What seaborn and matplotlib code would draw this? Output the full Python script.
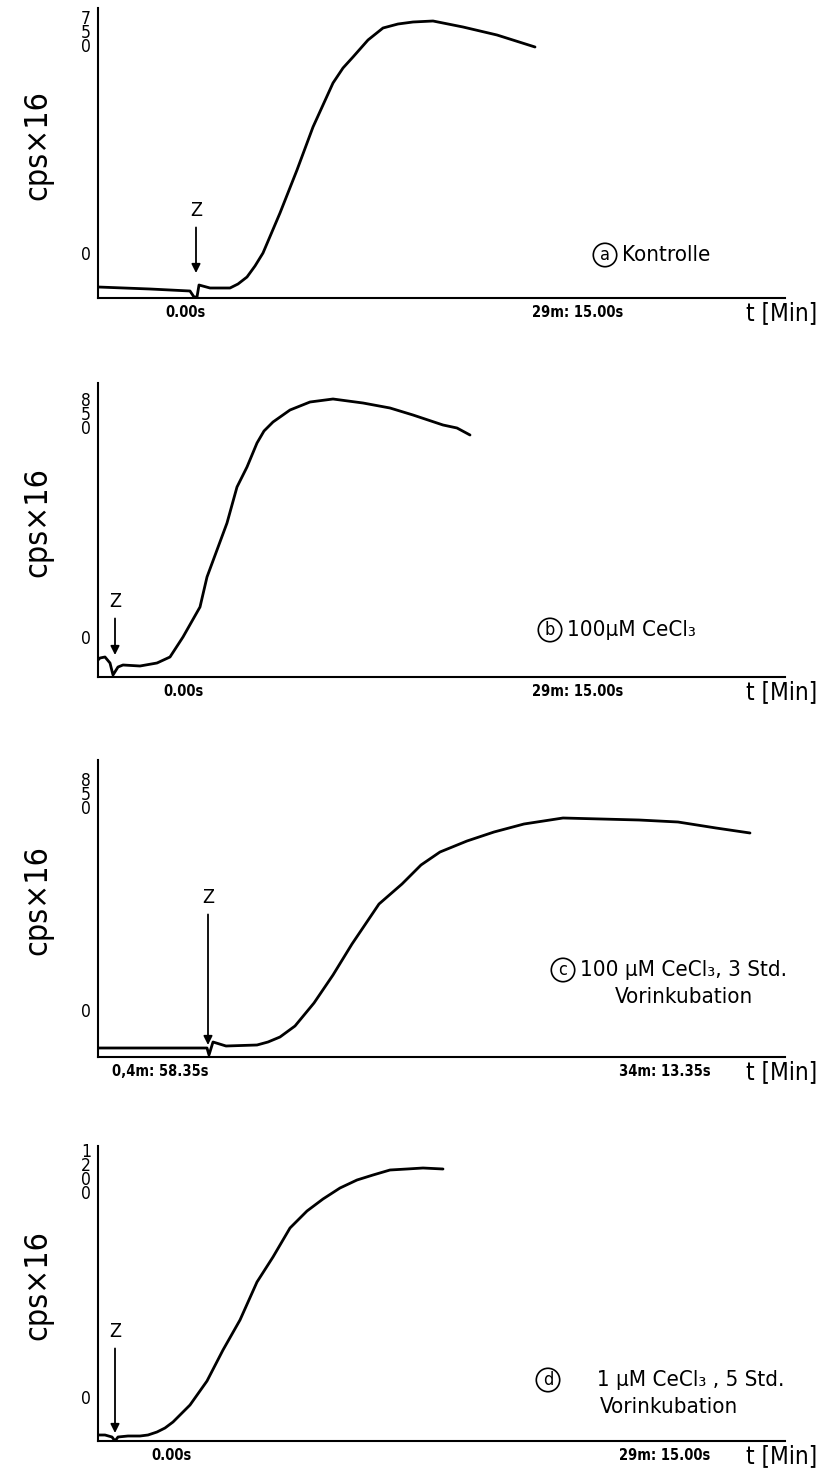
import matplotlib
matplotlib.use("Agg")
import matplotlib.pyplot as plt
import seaborn as sns
import numpy as np

sns.set_theme(style="white")
plt.rcParams['font.family'] = ['DejaVu Sans']
plt.rcParams['font.stretch'] = 'condensed'
plt.rcParams['text.color'] = 'black'
plt.rcParams['axes.labelcolor'] = 'black'
plt.rcParams['xtick.color'] = 'black'
plt.rcParams['ytick.color'] = 'black'

# ---------------- data (t in arbitrary chart units, signal in cps/16 units) ----------------
# panel a : Kontrolle
a_t = [0, 52, 92, 96, 99, 101, 112, 132, 140, 149, 157, 165, 182, 199, 215, 235, 245, 255, 270, 285, 300, 315, 335, 365, 399, 437]
a_y = [11, 9, 7, 1, 1, 13, 10, 10, 14, 21, 32, 45, 85, 128, 171, 215, 230, 241, 258, 270, 274, 276, 277, 271, 263, 251]
# panel b : 100 uM CeCl3
b_t = [0, 2, 7, 12, 15, 20, 25, 42, 59, 72, 85, 102, 109, 119, 129, 139, 149, 159, 166, 175, 192, 212, 235, 265, 292, 315, 345, 359, 372]
b_y = [17, 19, 20, 14, 2, 10, 12, 11, 14, 20, 40, 70, 100, 127, 154, 190, 210, 234, 246, 255, 267, 275, 278, 274, 269, 262, 252, 249, 242]
# panel c : 100 uM CeCl3, 3 Std. Vorinkubation
c_t = [0, 82, 109, 111, 115, 128, 159, 170, 182, 197, 216, 235, 254, 281, 304, 323, 342, 369, 396, 426, 465, 503, 541, 580, 618, 652]
c_y = [9, 9, 9, 2, 15, 11, 12, 15, 20, 31, 54, 82, 113, 153, 173, 192, 205, 216, 225, 233, 239, 238, 237, 235, 229, 224]
# panel d : 1 uM CeCl3, 5 Std. Vorinkubation
d_t = [0, 7, 14, 17, 20, 30, 42, 50, 59, 67, 75, 92, 109, 125, 142, 159, 175, 192, 209, 225, 242, 259, 275, 292, 309, 325, 345]
d_y = [6, 6, 4, 0, 4, 5, 5, 6, 9, 13, 19, 36, 60, 91, 121, 159, 184, 213, 230, 242, 253, 261, 266, 271, 272, 273, 272]

series = [a_t, a_y], [b_t, b_y], [c_t, c_y], [d_t, d_y]
panel_letters = ['a', 'b', 'c', 'd']
label_line1 = ['Kontrolle', '100μM CeCl₃', '100 μM CeCl₃, 3 Std.', '     1 μM CeCl₃ , 5 Std.']
label_line2 = ['', '', 'Vorinkubation', 'Vorinkubation']
start_labels = ['0.00s', '0.00s', '0,4m: 58.35s', '0.00s']
end_labels = ['29m: 15.00s', '29m: 15.00s', '34m: 13.35s', '29m: 15.00s']
top_tick_labels = ['7\n5\n0', '8\n5\n0', '8\n5\n0', '1\n2\n0\n0']
z_t = [98, 17, 110, 17]

# ---------------- layout (pixels of the 836x1477 canvas) ----------------
W, H = 836, 1477
ax_left, ax_right = 98, 785
panels_px = [(8, 298), (383, 677), (760, 1057), (1146, 1441)]  # (top, bottom)
zero_tick = [45, 40, 47, 44]
top_tick = [265, 262, 262, 268]
start_x = [87, 85, 62, 73]
end_x = [480, 480, 567, 567]
lbl_x = [507, 452, 465, 450]
lbl_y = [43, 47, 87, 61]
z_text_y = [78, 66, 150, 100]
z_tip_y = [25, 22, 12, 8]

fig = plt.figure(figsize=(W / 100, H / 100), dpi=100)
fam = ['DejaVu Sans']

for i in range(4):
    top, bot = panels_px[i]
    ax = fig.add_axes([ax_left / W, (H - bot) / H, (ax_right - ax_left) / W, (bot - top) / H])
    t, y = series[i]
    sns.lineplot(x=t, y=y, ax=ax, color='black', lw=2.0, sort=False, estimator=None)
    ax.set_xlim(0, ax_right - ax_left)
    ax.set_ylim(0, bot - top)
    for s in ['top', 'right']:
        ax.spines[s].set_visible(False)
    for s in ['left', 'bottom']:
        ax.spines[s].set_color('black')
        ax.spines[s].set_linewidth(1.5)
    ax.set_yticks([zero_tick[i], top_tick[i]])
    ax.set_yticklabels(['0', top_tick_labels[i]], fontsize=12.5, family=fam, stretch='condensed', linespacing=0.72)
    ax.set_xticks([start_x[i], end_x[i]])
    ax.set_xticklabels([start_labels[i], end_labels[i]], fontsize=10.5, family=fam, stretch='condensed',
                       fontweight='bold')
    ax.tick_params(axis='both', length=0, pad=5, colors='black')
    ax.grid(False)
    # y label
    ax.text(-60, (bot - top) / 2 + 8, 'cps×16', rotation=90, fontsize=23, ha='center', va='center',
            family=fam, stretch='condensed', color='black')
    # t [Min]
    ax.text(648, -15, 't [Min]', fontsize=17.5, ha='left', va='center', family=fam, stretch='condensed',
            color='black', clip_on=False)
    # Z arrow
    ax.annotate('Z', xy=(z_t[i], z_tip_y[i]), xytext=(z_t[i], z_text_y[i]), ha='center', va='bottom',
                fontsize=14, family=fam, stretch='condensed', color='black',
                arrowprops=dict(arrowstyle='-|>', color='black', lw=1.3, mutation_scale=13, shrinkA=3, shrinkB=0))
    # condition label
    ax.text(lbl_x[i], lbl_y[i], panel_letters[i], fontsize=13, family=fam, stretch='condensed', color='black',
            ha='center', va='center', bbox=dict(boxstyle='circle,pad=0.15', fc='none', ec='black', lw=1.2))
    ax.text(lbl_x[i] + 17, lbl_y[i], label_line1[i], fontsize=16, family=fam, stretch='condensed',
            color='black', ha='left', va='center')
    if label_line2[i]:
        ax.text(lbl_x[i] + 52, lbl_y[i] - 27, label_line2[i], fontsize=16, family=fam, stretch='condensed',
                color='black', ha='left', va='center')

fig.savefig('out.png', dpi=100, facecolor='white')
